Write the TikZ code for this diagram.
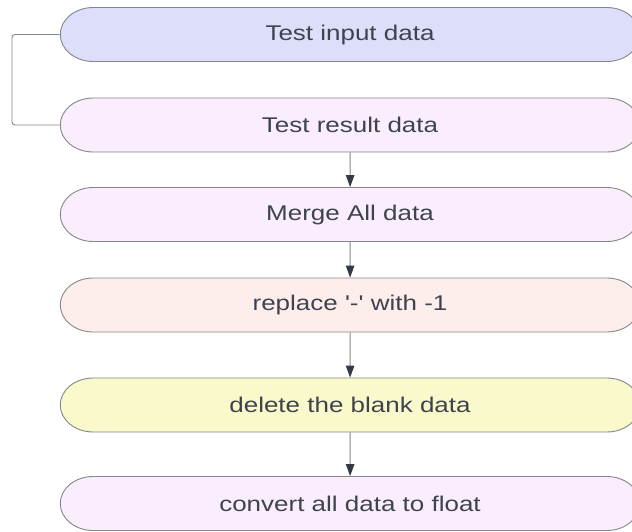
\documentclass[tikz,border=0pt]{standalone}
\usepackage{fontspec}
\newfontfamily\flowfont{Liberation Sans}
\usepackage{tikz}
\usetikzlibrary{shapes.misc}
\usetikzlibrary{positioning}
\usetikzlibrary{arrows.meta}
\definecolor{linegray}{HTML}{85868B}
\definecolor{tipgray}{HTML}{343A45}
\definecolor{textgray}{HTML}{3E434E}
\definecolor{fillblue}{HTML}{DDDEFA}
\definecolor{fillpink}{HTML}{FAEEFD}
\definecolor{fillrose}{HTML}{FDEEEC}
\definecolor{fillyellow}{HTML}{FAF9CB}
\tikzset{
    stepnode/.style = {rounded rectangle, draw=linegray, line width=0.9pt, minimum width=475pt, minimum height=54pt, inner sep=0pt, align=center, font=\flowfont\fontsize{21.3}{25}\selectfont, text=textgray},
    stepb/.style = {stepnode, fill=fillblue},
    stepp/.style = {stepnode, fill=fillpink},
    stepr/.style = {stepnode, fill=fillrose},
    stepy/.style = {stepnode, fill=fillyellow},
    flow/.style = {-{Triangle[length=12pt,width=8.5pt,color=tipgray]}, line width=1pt, linegray},
    link/.style = {-, line width=0.9pt, linegray, rounded corners=3pt},
}

\begin{document}
\begin{tikzpicture}[x=1pt, y=1pt, xscale=1.22, transform shape]
\useasboundingbox (0,0) rectangle (518.03,-531);

\node[stepb] at (286.9,  -34.5) (input) {Test input data};
\node[stepp] at (286.9, -125.0) (result) {Test result data};
\node[stepp] at (286.9, -214.5) (merge) {Merge All data};
\node[stepr] at (286.9, -305.0) (replace) {replace '-' with -1};
\node[stepy] at (286.9, -405.0) (blank) {delete the blank data};
\node[stepp] at (286.9, -503.5) (float) {convert all data to float};

\coordinate (bend) at (9.8, -34.5);

\draw[link] (input.west) -- (input.west -| bend) |- (result.west);
\draw[flow] (result) -- (merge);
\draw[flow] (merge) -- (replace);
\draw[flow] (replace) -- (blank);
\draw[flow] (blank) -- (float);

\end{tikzpicture}
\end{document}
